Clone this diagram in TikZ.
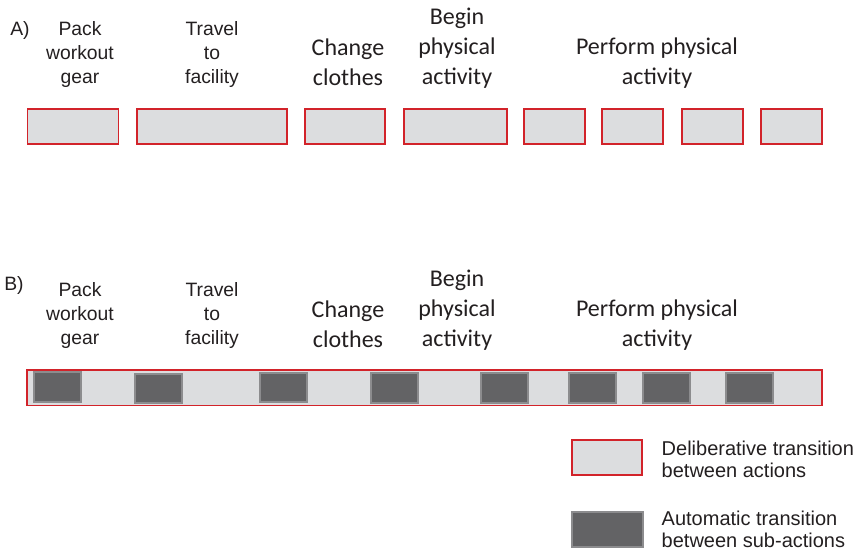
\documentclass[tikz,border=0pt]{standalone}
\usepackage{fontspec}
\setmainfont{Liberation Sans}
\newfontfamily\calibri{Carlito}
\usepackage{xcolor}
\usepackage{tikz}
\usetikzlibrary{positioning}

\definecolor{boxred}{HTML}{D2232A}
\definecolor{boxgrey}{HTML}{DCDDDF}
\definecolor{autogrey}{HTML}{636365}
\definecolor{autoedge}{HTML}{8C8C8E}
\definecolor{txt}{HTML}{231F20}

\tikzset{
  delib/.style={fill=boxgrey, draw=boxred, line width=0.9pt},
  auto/.style={fill=autogrey, draw=autoedge, line width=0.9pt},
  arial/.style={align=center, text=txt, font=\fontsize{14.5}{18}\selectfont},
  cal/.style={align=center, text=txt, font=\calibri\fontsize{18}{22.5}\selectfont},
  legend/.style={align=left, anchor=west, text=txt, font=\fontsize{15}{16.5}\selectfont}
}

\begin{document}
\begin{tikzpicture}[x=0.75pt,y=-0.75pt]
  \useasboundingbox (0,0) rectangle (860,551);

  % panel A: one box per action
  \node[arial] (lblA) at (20,30) {A)};
  \node[arial] (packA) at (80,54) {Pack\\workout\\gear};
  \node[arial] (travelA) at (212,54) {Travel\\to\\facility};
  \node[cal] (changeA) at (348,62) {Change\\clothes};
  \node[cal] (beginA) at (457,48) {Begin\\physical\\activity};
  \node[cal] (performA) at (657,63) {Perform physical\\activity};
  \foreach \xa/\xb in {27.5/118.5, 137/287, 305/385, 404/507, 524/585, 602/663, 682/743, 761/822}
    \filldraw[delib] (\xa,109) rectangle (\xb,144);

  % panel B: one long transition strip with sub-actions
  \node[arial] (lblB) at (14,285) {B)};
  \node[arial] (packB) at (80,315) {Pack\\workout\\gear};
  \node[arial] (travelB) at (212,315) {Travel\\to\\facility};
  \node[cal] (changeB) at (348,324) {Change\\clothes};
  \node[cal] (beginB) at (457,310) {Begin\\physical\\activity};
  \node[cal] (performB) at (657,325) {Perform physical\\activity};
  \filldraw[delib] (27,370) rectangle (822,405.5);
  \foreach \xa/\ya/\yb in {34/372/402, 135/374/403, 260/373/402, 371/373/403, 481/373/403, 569/373/403, 643/373/403, 726/373/403}
    \filldraw[auto] (\xa,\ya) rectangle ({\xa+47},\yb);

  % key
  \filldraw[delib] (572,440) rectangle (642,475);
  \node[legend] (keyD) at (657,459) {Deliberative transition\\between actions};
  \filldraw[auto] (572,512) rectangle (643,547);
  \node[legend] (keyA) at (657,529) {Automatic transition\\between sub-actions};
\end{tikzpicture}
\end{document}
